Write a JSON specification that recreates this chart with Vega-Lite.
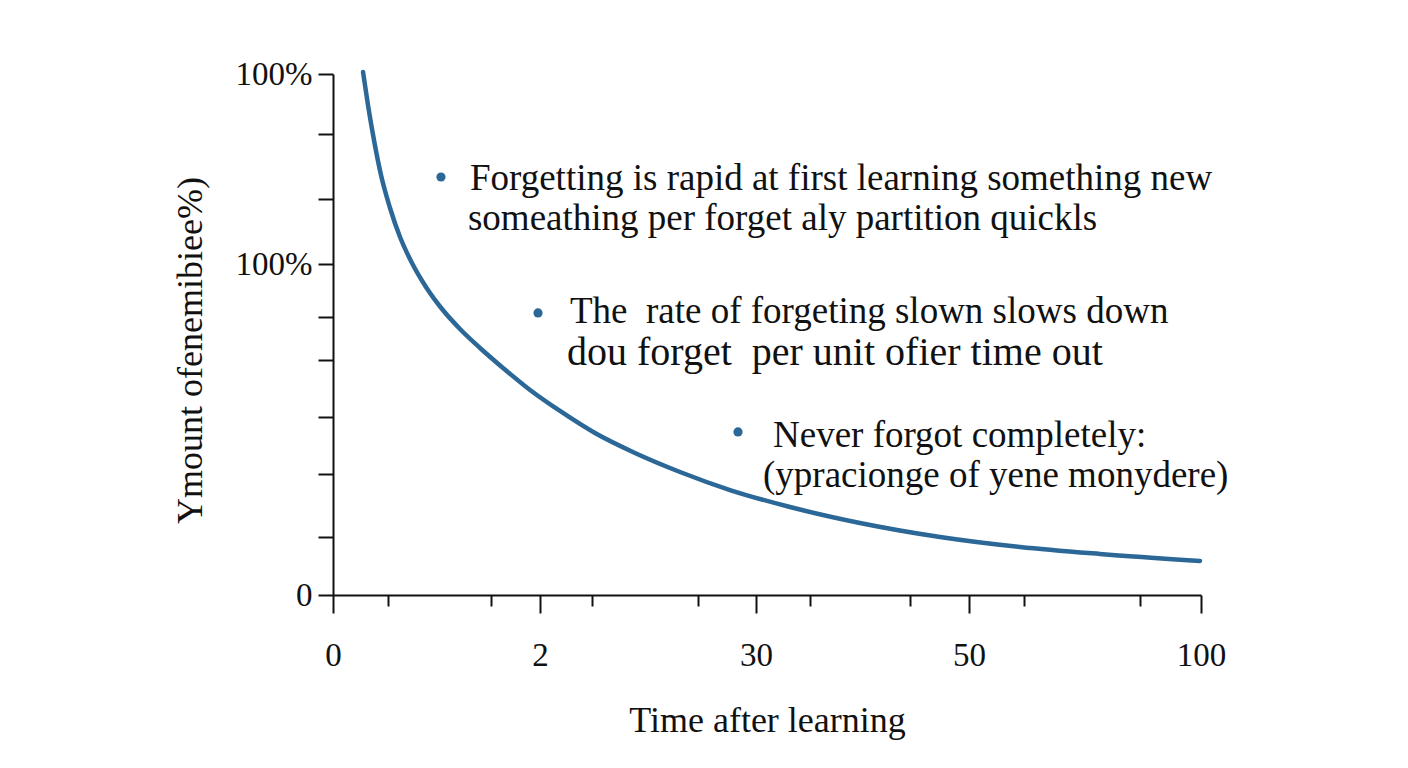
{
  "$schema": "https://vega.github.io/schema/vega-lite/v6.json",
  "autosize": "none",
  "width": 868,
  "height": 521,
  "padding": {"left": 333, "top": 74, "right": 207, "bottom": 173},
  "background": "white",
  "config": {
    "view": {"stroke": null},
    "font": "Liberation Serif",
    "axis": {
      "domainColor": "#111111",
      "domainWidth": 2,
      "tickColor": "#111111",
      "tickWidth": 2,
      "labelFont": "Liberation Serif",
      "labelColor": "#111111",
      "labelFontSize": 33,
      "titleFont": "Liberation Serif",
      "titleColor": "#111111",
      "titleFontSize": 36,
      "titleFontWeight": "normal",
      "grid": false
    }
  },
  "datasets": {
    "curve": [
      {"t": 3.46, "r": 100.38},
      {"t": 4.03, "r": 94.05},
      {"t": 4.72, "r": 87.33},
      {"t": 5.53, "r": 80.61},
      {"t": 6.57, "r": 74.28},
      {"t": 7.72, "r": 68.71},
      {"t": 9.1, "r": 63.72},
      {"t": 10.71, "r": 59.12},
      {"t": 12.56, "r": 54.89},
      {"t": 14.63, "r": 51.06},
      {"t": 16.94, "r": 47.41},
      {"t": 19.59, "r": 43.57},
      {"t": 22.7, "r": 39.35},
      {"t": 26.15, "r": 35.32},
      {"t": 30.18, "r": 31.09},
      {"t": 34.79, "r": 27.26},
      {"t": 39.98, "r": 23.61},
      {"t": 45.74, "r": 20.15},
      {"t": 52.65, "r": 16.89},
      {"t": 60.71, "r": 13.82},
      {"t": 69.93, "r": 11.13},
      {"t": 79.15, "r": 9.21},
      {"t": 88.36, "r": 7.87},
      {"t": 99.88, "r": 6.53}
    ],
    "bullets": [
      {"t": 12.44, "r": 80.23},
      {"t": 23.62, "r": 54.13},
      {"t": 46.66, "r": 31.29}
    ],
    "notes": [
      {"t": 15.78, "r": 77.7, "text": "Forgetting is rapid at first learning something new"},
      {"t": 15.55, "r": 70.06, "text": "someathing per forget aly partition quickls"},
      {"t": 27.3, "r": 52.21, "text": "The\u00a0 rate of forgeting slown slows down"},
      {"t": 26.96, "r": 44.15, "text": "dou forget\u00a0 per unit ofier time out"},
      {"t": 50.69, "r": 28.41, "text": "Never forgot completely:"},
      {"t": 49.54, "r": 20.73, "text": "(ypracionge of yene monydere)"}
    ]
  },
  "encoding": {
    "x": {
      "field": "t",
      "type": "quantitative",
      "scale": {"domain": [0, 100], "nice": false, "zero": false},
      "axis": {
        "title": "Time after learning",
        "values": [0, 6.34, 18.2, 23.85, 29.84, 42.05, 48.73, 54.95, 66.47, 73.27, 79.61, 92.97, 100],
        "labelExpr": "datum.value == 0 ? '0' : datum.value == 23.85 ? '2' : datum.value == 48.73 ? '30' : datum.value == 73.27 ? '50' : datum.value == 100 ? '100' : ''",
        "tickSize": {"condition": {"test": "datum.value == 0 || datum.value == 23.85 || datum.value == 48.73 || datum.value == 73.27 || datum.value == 100", "value": 18}, "value": 11},
        "labelPadding": 26,
        "labelFlush": false,
        "labelOverlap": false,
        "titlePadding": 31
      }
    },
    "y": {
      "field": "r",
      "type": "quantitative",
      "scale": {"domain": [0, 100], "nice": false, "zero": false},
      "axis": {
        "title": "Ymount ofenemibiee%)",
        "values": [0, 11.13, 23.22, 34.17, 45.11, 53.36, 63.53, 76.01, 88.48, 100],
        "labelExpr": "datum.value == 100 || datum.value == 63.53 ? '100%' : datum.value == 0 ? '0' : ''",
        "tickSize": 15,
        "labelPadding": 6,
        "labelFlush": false,
        "labelOverlap": false,
        "titlePadding": 26,
        "titleY": 276
      }
    }
  },
  "layer": [
    {
      "data": {"name": "curve"},
      "mark": {"type": "line", "interpolate": "monotone", "color": "#2b6797", "strokeWidth": 4.5, "strokeCap": "round", "clip": false}
    },
    {
      "data": {"name": "bullets"},
      "mark": {"type": "circle", "color": "#2b6797", "opacity": 1, "size": 85}
    },
    {
      "data": {"name": "notes"},
      "transform": [{"filter": "indexof(datum.text, 'dou forget') != 0"}],
      "mark": {"type": "text", "align": "left", "baseline": "alphabetic", "font": "Liberation Serif", "fontSize": 37, "color": "#111111"},
      "encoding": {"text": {"field": "text", "type": "nominal"}}
    },
    {
      "data": {"name": "notes"},
      "transform": [{"filter": "indexof(datum.text, 'dou forget') == 0"}],
      "mark": {"type": "text", "align": "left", "baseline": "alphabetic", "font": "Liberation Serif", "fontSize": 40, "color": "#111111"},
      "encoding": {"text": {"field": "text", "type": "nominal"}}
    }
  ]
}
